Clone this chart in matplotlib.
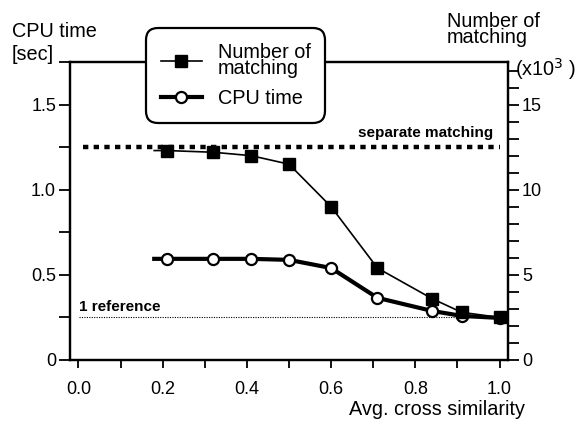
import matplotlib.pyplot as plt
from matplotlib.ticker import MultipleLocator, FixedLocator

plt.rcParams['font.family'] = ['Liberation Sans', 'DejaVu Sans']

# data (first x value is where the drawn line begins)
similarity = [0.18, 0.21, 0.32, 0.41, 0.50, 0.60, 0.71, 0.84, 0.91, 1.00]
matching_k = [12.3, 12.3, 12.2, 12.0, 11.5, 9.0, 5.4, 3.6, 2.8, 2.5]
cpu_time = [0.594, 0.594, 0.594, 0.594, 0.588, 0.54, 0.365, 0.288, 0.259, 0.247]
separate_level = 1.25
one_ref_level = 0.25

W, H = 579, 425
fig = plt.figure(figsize=(W / 100, H / 100), dpi=100)
ax = fig.add_axes([70 / W, 1 - 360 / H, (508 - 70) / W, (360 - 62) / H])
ax2 = ax.twinx()

ax.set_xlim(-0.02, 1.02)
ax.set_ylim(0, 1.75)
ax2.set_ylim(0, 17.5)

# reference lines
ax.plot([0.01, 1.0], [separate_level] * 2, color='black', lw=3.2, ls=(0, (1.2, 1.2)))
ax.plot([0.002, 1.0], [one_ref_level] * 2, color='black', lw=0.8, ls=(0, (1, 1.2)))
ax.text(0.985, 1.31, 'separate matching', fontsize=11,
        fontweight='bold', ha='right', va='baseline')
ax.text(0.002, 0.288, '1 reference', fontsize=11,
        fontweight='bold', ha='left', va='baseline')

# series
marks = list(range(1, len(similarity)))
l1, = ax2.plot(similarity, matching_k, color='black', lw=1.2, marker='s',
               markersize=8, markerfacecolor='black', markevery=marks, zorder=3)
l2, = ax.plot(similarity, cpu_time, color='black', lw=3, marker='o',
              markersize=8, markerfacecolor='white', markeredgewidth=1.6,
              markevery=marks, zorder=4)

# ticks
for a in (ax, ax2):
    for s in a.spines.values():
        s.set_linewidth(1.6)
ax.set_xticks([0.0, 0.2, 0.4, 0.6, 0.8, 1.0])
ax.set_xticklabels(['0.0', '0.2', '0.4', '0.6', '0.8', '1.0'])
ax.xaxis.set_minor_locator(MultipleLocator(0.1))
ax.yaxis.set_major_locator(FixedLocator([0, 0.5, 1.0, 1.5]))
ax.set_yticklabels(['0', '0.5', '1.0', '1.5'])
ax.yaxis.set_minor_locator(FixedLocator([0.25, 0.75, 1.25, 1.75]))
ax2.yaxis.set_major_locator(FixedLocator([0, 5, 10, 15]))
ax2.yaxis.set_minor_locator(MultipleLocator(1))
ax.tick_params(axis='both', which='both', direction='out', length=6, width=1.3,
               labelsize=13)
ax.tick_params(axis='y', which='both', pad=2, length=8)
ax.tick_params(axis='x', which='both', pad=9)
ax2.tick_params(axis='y', which='both', direction='out', length=8, width=1.3,
                labelsize=13, pad=2)

# axis titles (x, top / baseline in pixels from top-left)
def ftext(x, y, s, va='baseline', **kw):
    fig.text(x / W, 1 - y / H, s, fontsize=14.3, va=va, **kw)

ftext(12, 37, 'CPU time')
ftext(12, 60, '[sec]')
ftext(447, 12, 'Number of\nmatching', va='top', linespacing=0.82)
ftext(515, 76, '(x10$^3$ )')
ftext(525, 415, 'Avg. cross similarity', ha='right')

leg = fig.legend([l1, l2], ['Number of\nmatching', 'CPU time'],
                 loc='upper left', bbox_to_anchor=(149 / W, 1 - 31 / H),
                 fontsize=14.3, frameon=True, fancybox=True, framealpha=1,
                 edgecolor='black', handlelength=2.05, borderpad=0.6,
                 labelspacing=0.55, handletextpad=0.8, borderaxespad=0)
for t in leg.get_texts():
    t.set_linespacing(0.8)
leg.get_frame().set_linewidth(1.6)
leg.get_frame().set_boxstyle('round,pad=0.15,rounding_size=0.6')
leg.set_zorder(10)

fig.savefig('out.png', dpi=100)
